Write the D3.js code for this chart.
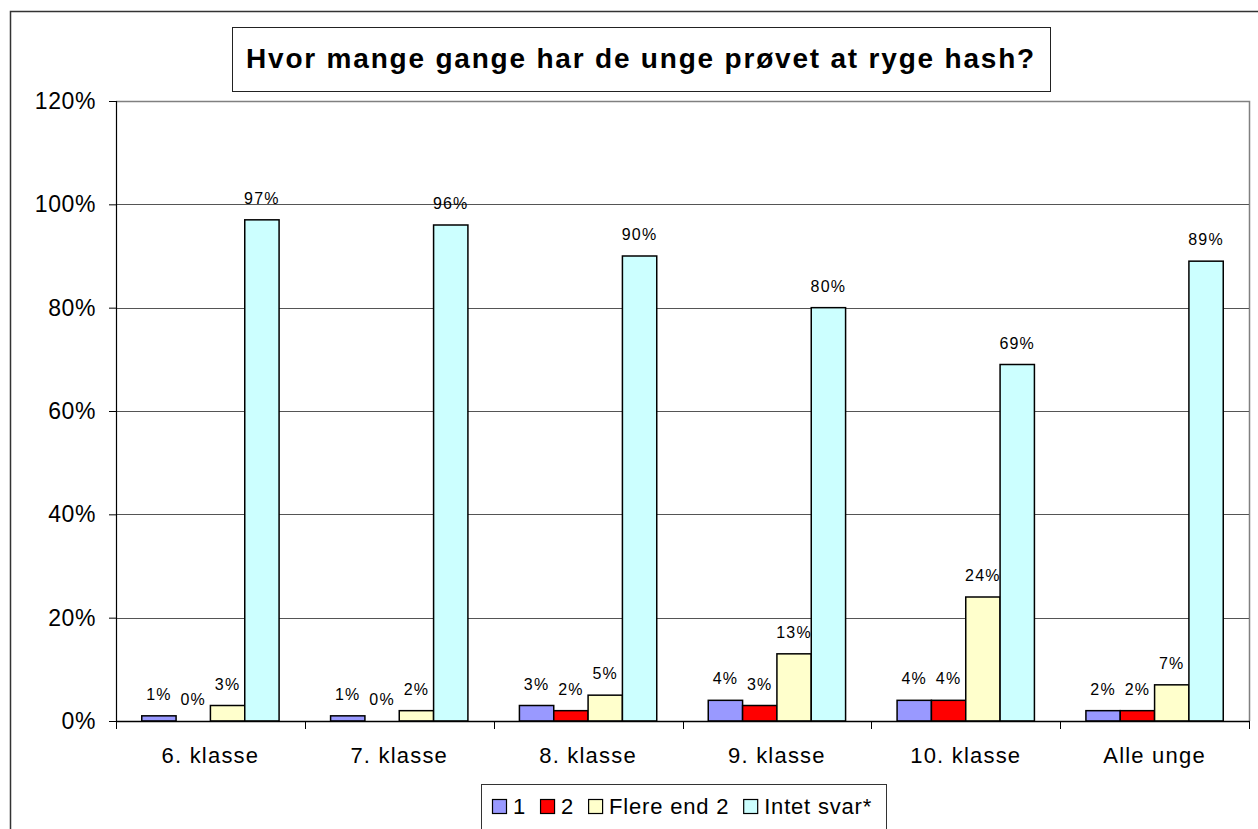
<!DOCTYPE html>
<html>
<head>
<meta charset="utf-8">
<script src="https://cdn.jsdelivr.net/npm/d3@7"></script>
<style>
  body { margin: 0; background: #fff; }
  svg { display: block; font-family: "Liberation Sans", Arial, sans-serif; }
</style>
</head>
<body>
<svg id="chart"></svg>
<script>
const categories = ['6. klasse', '7. klasse', '8. klasse', '9. klasse', '10. klasse', 'Alle unge'];
const seriesNames = ['1', '2', 'Flere end 2', 'Intet svar*'];
const seriesColors = ['#9999ff', '#ff0000', '#ffffcc', '#ccffff'];
const values1 = [1, 1, 3, 4, 4, 2];
const values2 = [0, 0, 2, 3, 4, 2];
const valuesMore = [3, 2, 5, 13, 24, 7];
const valuesNone = [97, 96, 90, 80, 69, 89];
const yTicks = [0, 20, 40, 60, 80, 100, 120];
const title = 'Hvor mange gange har de unge prøvet at ryge hash?';

const allSeries = [values1, values2, valuesMore, valuesNone];

draw_chart();

function draw_chart() {
    const W = 1258, H = 829;
    const plot = {left: 116, top: 101, right: 1249, bottom: 721};

    const svg = d3.select('#chart')
        .attr('width', W)
        .attr('height', H);

    /* outer chart border, runs off the right and bottom */
    svg.append('rect')
        .attr('x', 10.5).attr('y', 11.5)
        .attr('width', 1260).attr('height', 840)
        .attr('fill', 'none')
        .attr('stroke', '#333')
        .attr('stroke-width', 1.5);

    /* title box */
    svg.append('rect')
        .attr('x', 232.5).attr('y', 27.5)
        .attr('width', 818).attr('height', 64)
        .attr('fill', '#fff')
        .attr('stroke', '#222');
    svg.append('text')
        .attr('x', 641).attr('y', 68)
        .attr('text-anchor', 'middle')
        .attr('font-size', 28)
        .attr('font-weight', 'bold')
        .attr('letter-spacing', 1.8)
        .text(title);

    const x = d3.scaleBand()
        .domain(categories)
        .range([plot.left, plot.right])
        .padding(0);

    const xSub = d3.scaleBand()
        .domain(seriesNames)
        .range([0, x.bandwidth()])
        .paddingInner(0)
        .paddingOuter(0.75);

    const y = d3.scaleLinear()
        .domain([0, 120])
        .range([plot.bottom, plot.top]);

    /* plot area frame (top & right grey) */
    svg.append('path')
        .attr('d', `M${plot.left},${plot.top + 0.5}H${plot.right + 0.5}V${plot.bottom}`)
        .attr('fill', 'none')
        .attr('stroke', '#808080')
        .attr('stroke-width', 1.5);

    /* gridlines */
    svg.append('g')
        .selectAll('line')
        .data(yTicks.filter(t => t > 0 && t < 120))
        .enter().append('line')
        .attr('x1', plot.left).attr('x2', plot.right)
        .attr('y1', d => Math.round(y(d)) + 0.5)
        .attr('y2', d => Math.round(y(d)) + 0.5)
        .attr('stroke', '#555')
        .attr('stroke-width', 1.2);

    /* y axis */
    const yAxis = svg.append('g')
        .attr('transform', `translate(${plot.left},0)`)
        .call(d3.axisLeft(y).tickValues(yTicks).tickFormat(d => d + '%').tickSize(7).tickPadding(13));
    yAxis.select('.domain').attr('stroke', '#000').attr('stroke-width', 1.2);
    yAxis.selectAll('.tick line').attr('stroke', '#000');
    yAxis.selectAll('.tick text')
        .attr('font-size', 23)
        .attr('letter-spacing', 0.6)
        .attr('fill', '#000')
        .attr('font-family', '"Liberation Sans", Arial, sans-serif');

    /* bars */
    const groups = svg.append('g')
        .selectAll('g')
        .data(categories)
        .enter().append('g')
        .attr('transform', d => `translate(${x(d)},0)`);

    groups.selectAll('rect')
        .data((d, i) => seriesNames.map((s, k) => ({series: s, k: k, value: allSeries[k][i]})))
        .enter().append('rect')
        .attr('x', d => xSub(d.series))
        .attr('width', xSub.bandwidth())
        .attr('y', d => y(d.value))
        .attr('height', d => plot.bottom - y(d.value))
        .attr('fill', d => seriesColors[d.k])
        .attr('stroke', '#000')
        .attr('stroke-width', 1.5);

    groups.selectAll('text')
        .data((d, i) => seriesNames.map((s, k) => ({series: s, k: k, value: allSeries[k][i]})))
        .enter().append('text')
        .attr('x', d => xSub(d.series) + xSub.bandwidth() / 2)
        .attr('y', d => y(d.value) - 16)
        .attr('text-anchor', 'middle')
        .attr('font-size', 16)
        .attr('letter-spacing', 1.2)
        .text(d => d.value + '%');

    /* x axis */
    const xAxis = svg.append('g')
        .attr('transform', `translate(0,${plot.bottom})`)
        .call(d3.axisBottom(x).tickSize(0).tickPadding(26));
    xAxis.select('.domain').attr('stroke', '#000').attr('stroke-width', 1.5);
    xAxis.selectAll('.tick text')
        .attr('font-size', 22)
        .attr('letter-spacing', 1.2)
        .attr('fill', '#000')
        .attr('font-family', '"Liberation Sans", Arial, sans-serif');

    /* tick marks between categories */
    const bounds = categories.map(c => x(c)).concat([plot.right]);
    svg.append('g')
        .selectAll('line')
        .data(bounds)
        .enter().append('line')
        .attr('x1', d => Math.round(d) + 0.5).attr('x2', d => Math.round(d) + 0.5)
        .attr('y1', plot.bottom).attr('y2', plot.bottom + 8)
        .attr('stroke', '#000');

    /* legend */
    const legend = svg.append('g');
    legend.append('rect')
        .attr('x', 481.5).attr('y', 784.5)
        .attr('width', 405).attr('height', 60)
        .attr('fill', '#fff')
        .attr('stroke', '#333');

    let lx = 492;
    seriesNames.forEach((s, k) => {
        legend.append('rect')
            .attr('x', lx + 0.5).attr('y', 799.5)
            .attr('width', 14).attr('height', 14)
            .attr('fill', seriesColors[k])
            .attr('stroke', '#000')
            .attr('stroke-width', 1.2);
        const t = legend.append('text')
            .attr('x', lx + 21)
            .attr('y', 814)
            .attr('font-size', 22)
            .attr('letter-spacing', 0.8)
            .text(s);
        lx += 21 + t.node().getComputedTextLength() + 14;
    });
}
</script>
</body>
</html>
